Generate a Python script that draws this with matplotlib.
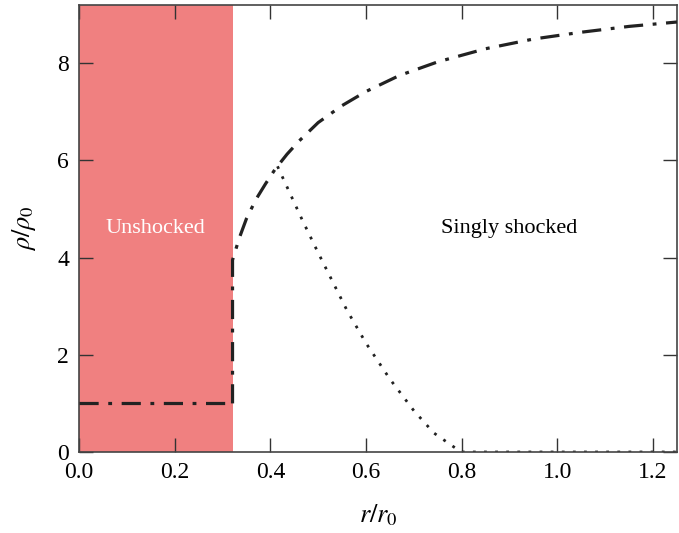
import matplotlib.pyplot as plt
import numpy as np

plt.rcParams['font.family'] = ['Liberation Serif', 'DejaVu Serif']
plt.rcParams['mathtext.fontset'] = 'stix'

# shock front position and pre-shock density
r_shock = 0.321
pre_r = [0.0, 0.321]
pre_rho = [1.0, 1.0]

# post-shock density (dash-dot)
post_r = [0.321, 0.321, 0.335, 0.35, 0.37, 0.39, 0.41, 0.435, 0.46, 0.5, 0.55, 0.6, 0.67, 0.75, 0.85, 0.95, 1.05, 1.15, 1.25]
post_rho = [1.0, 3.95, 4.4, 4.8, 5.2, 5.52, 5.82, 6.13, 6.4, 6.78, 7.13, 7.42, 7.75, 8.03, 8.3, 8.5, 8.64, 8.76, 8.85]

# dotted curve
dot_r = [0.415, 0.467, 0.5, 0.56, 0.6, 0.65, 0.7, 0.742, 0.787, 0.8, 0.9, 1.0, 1.1, 1.25]
dot_rho = [5.88, 4.77, 4.1, 2.92, 2.24, 1.5, 0.85, 0.39, 0.08, 0.0, 0.0, 0.0, 0.0, 0.0]

fig = plt.figure(figsize=(6.79, 5.33), dpi=100)
ax = fig.add_axes([0.1163, 0.152, 0.8807, 0.8386])

ax.axvspan(0, r_shock, color='#f08080', lw=0, zorder=0)

ls = (0, (6, 3, 1.2, 3))
ax.plot(dot_r, dot_rho, color='#222222', lw=2.0, linestyle=(0, (1, 3)), zorder=2)
ax.plot(pre_r, pre_rho, color='#222222', lw=2.3, linestyle=ls, zorder=3)
ax.plot(post_r, post_rho, color='#222222', lw=2.3, linestyle=ls, zorder=3)

ax.text(0.16, 4.6, 'Unshocked', color='white', fontsize=16, ha='center', va='center')
ax.text(0.9, 4.6, 'Singly shocked', color='black', fontsize=16, ha='center', va='center')

ax.set_xlim(0, 1.25)
ax.set_ylim(0, 9.2)
ax.set_xticks([0.0, 0.2, 0.4, 0.6, 0.8, 1.0, 1.2])
ax.set_yticks([0, 2, 4, 6, 8])
ax.set_xticklabels(['0.0', '0.2', '0.4', '0.6', '0.8', '1.0', '1.2'])
ax.tick_params(direction='in', length=10, width=1, top=True, right=True,
               labelsize=17, colors='#333333', labelcolor='black', pad=7)
for s in ax.spines.values():
    s.set_color('#444444')
    s.set_linewidth(1.2)

ax.set_xlabel(r'$r/r_0$', fontsize=19, labelpad=14)
ax.set_ylabel(r'$\rho/\rho_0$', fontsize=19, labelpad=14)

fig.savefig('out.png', dpi=100)
